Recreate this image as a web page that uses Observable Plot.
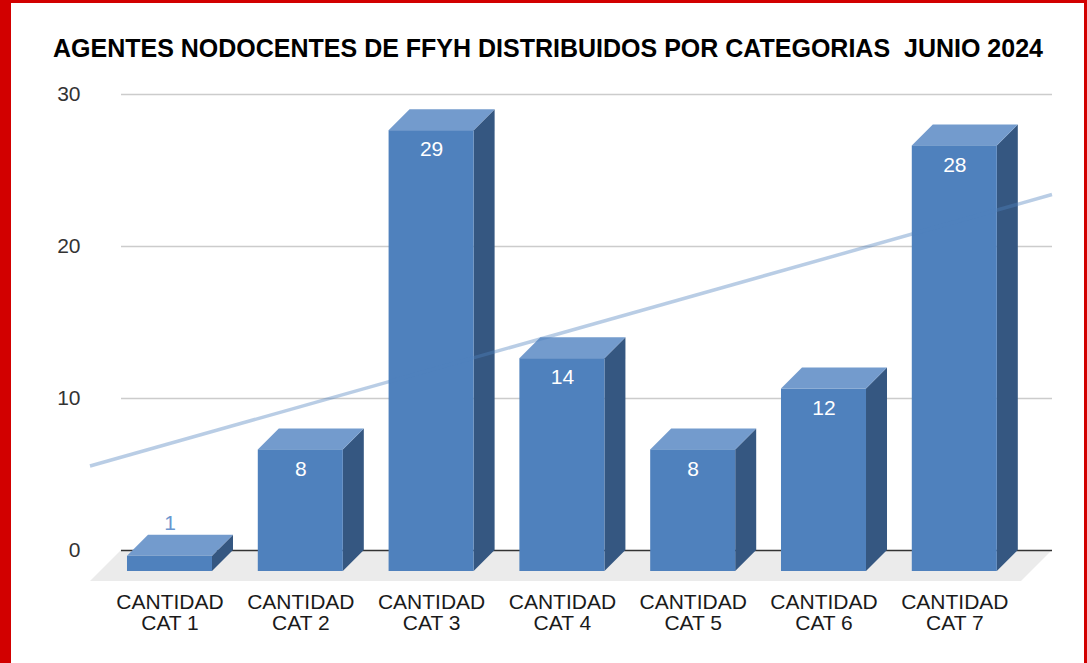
<!DOCTYPE html>
<html><head><meta charset="utf-8">
<script src="https://cdn.jsdelivr.net/npm/d3@7"></script>
<script src="https://cdn.jsdelivr.net/npm/@observablehq/plot@0.6"></script>
<style>
html,body{margin:0;padding:0;background:#fff;}
#wrap{position:relative;width:1087px;height:663px;overflow:hidden;font-family:Arial,"Liberation Sans",sans-serif;}
#frame{position:absolute;left:0;top:0;width:1087px;height:663px;box-sizing:border-box;border-left:11px solid #d20000;border-top:3px solid #d20000;border-right:3px solid #d20000;pointer-events:none;}
#title{position:absolute;left:53px;top:34.4px;font-size:25px;font-weight:bold;color:#000;white-space:pre;line-height:normal;}
#chart{position:absolute;left:0;top:0;}
</style></head><body>
<div id="wrap"><div id="chart"></div><div id="title"></div><div id="frame"></div></div>
<script>
const titleText = "AGENTES NODOCENTES DE FFYH DISTRIBUIDOS POR CATEGORIAS  JUNIO 2024";
const categories = ["CANTIDAD\nCAT 1", "CANTIDAD\nCAT 2", "CANTIDAD\nCAT 3", "CANTIDAD\nCAT 4", "CANTIDAD\nCAT 5", "CANTIDAD\nCAT 6", "CANTIDAD\nCAT 7"];
const values = [1, 8, 29, 14, 8, 12, 28];
const yTicks = [0, 10, 20, 30];

document.getElementById("title").textContent = titleText;

const data = categories.map((c, k) => ({i: k + 1, cat: c, v: values[k]}));
const DEPTH = 21, FLOOR = 31, BAR_RATIO = 0.65;
const FRONT = "#4f81bd", TOP = "#739bcd", SIDE = "#355781";

// linear trend of the series
const mx = d3.mean(data, d => d.i), my = d3.mean(values);
const slope = d3.sum(data, d => (d.i - mx) * (d.v - my)) / d3.sum(data, d => (d.i - mx) ** 2);
const intercept = my - slope * mx;

function floorMark(index, scales, channels, dims) {
  const g = d3.create("svg:g");
  const y0 = scales.y(0), xl = dims.marginLeft, xr = dims.width - dims.marginRight;
  g.append("path")
    .attr("d", `M${xl},${y0}L${xr},${y0}L${xr - FLOOR},${y0 + FLOOR}L${xl - FLOOR},${y0 + FLOOR}Z`)
    .attr("fill", "#ebebeb");
  return g.node();
}

function barsMark(index, scales, channels, dims) {
  const g = d3.create("svg:g");
  const unit = scales.x(2) - scales.x(1);
  const bw = unit * BAR_RATIO;
  const yb = scales.y(0) + DEPTH;
  for (const d of data) {
    const xc = scales.x(d.i), x1 = xc - bw / 2, x2 = xc + bw / 2;
    const yt = scales.y(d.v) + DEPTH;
    g.append("path")
      .attr("d", `M${x2},${yt}L${x2 + DEPTH},${yt - DEPTH}L${x2 + DEPTH},${yb - DEPTH}L${x2},${yb}Z`)
      .attr("fill", SIDE);
    g.append("path")
      .attr("d", `M${x1},${yt}L${x1 + DEPTH},${yt - DEPTH}L${x2 + DEPTH},${yt - DEPTH}L${x2},${yt}Z`)
      .attr("fill", TOP);
    g.append("rect").attr("x", x1).attr("y", yt).attr("width", bw).attr("height", yb - yt).attr("fill", FRONT);
  }
  return g.node();
}

function trendMark(index, scales, channels, dims) {
  const unit = scales.x(2) - scales.x(1), origin = scales.x(0);
  const xs = [dims.marginLeft - FLOOR, dims.width - dims.marginRight];
  const pts = xs.map(px => [px, scales.y(intercept + slope * ((px - origin) / unit))]);
  const g = d3.create("svg:g");
  g.append("path").attr("d", `M${pts[0][0]},${pts[0][1]}L${pts[1][0]},${pts[1][1]}`)
    .attr("stroke", FRONT).attr("stroke-opacity", 0.4).attr("stroke-width", 3.5).attr("fill", "none");
  return g.node();
}

const chart = Plot.plot({
  width: 1087, height: 663,
  marginLeft: 121, marginRight: 35, marginTop: 94, marginBottom: 113,
  x: {type: "linear", domain: [1, 7], range: [169.5, 954.3], axis: null},
  y: {domain: [0, 30], axis: null},
  style: {fontFamily: "Arial, 'Liberation Sans', sans-serif", background: "transparent", overflow: "visible"},
  marks: [
    floorMark,
    Plot.ruleY(yTicks.filter(t => t > 0), {stroke: "#cccccc", strokeWidth: 1.5}),
    Plot.ruleY([0], {stroke: "#333333", strokeWidth: 1.5}),
    Plot.axisY({ticks: yTicks, tickSize: 0, tickPadding: 41, fontSize: 21, label: null, color: "#333"}),
    barsMark,
    trendMark,
    Plot.text(data.filter(d => d.v >= 5), {x: "i", y: "v", text: d => String(d.v), dy: 40, fill: "white", fontSize: 21}),
    Plot.text(data.filter(d => d.v < 5), {x: "i", y: "v", text: d => String(d.v), dy: -12, fill: "#6a96cf", fontSize: 21}),
    Plot.text(data, {x: "i", y: () => 0, text: "cat", dy: 62, fontSize: 21, lineHeight: 1.0, fill: "#1a1a1a"})
  ]
});
document.getElementById("chart").appendChild(chart);
</script>
</body></html>
